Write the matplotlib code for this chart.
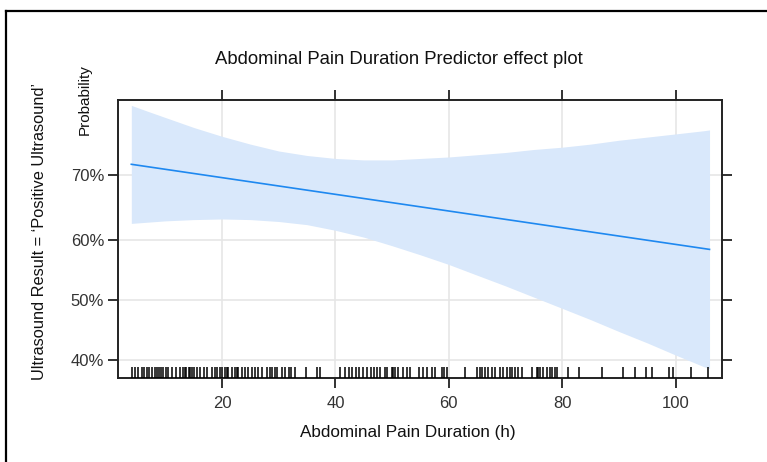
import matplotlib
matplotlib.use("Agg")
import matplotlib.pyplot as plt
from matplotlib.lines import Line2D
from matplotlib.ticker import FixedLocator, FuncFormatter, NullLocator

# ---- data ----
duration = [4, 7, 10, 15, 20, 25, 30, 35, 40, 45, 50, 55, 60, 65, 70, 75, 80, 85,
            90, 95, 100, 105, 106]
upper = [0.789, 0.782, 0.775, 0.763, 0.752, 0.742, 0.733, 0.727, 0.723, 0.721, 0.721,
         0.723, 0.725, 0.728, 0.731, 0.735, 0.738, 0.742, 0.747, 0.751, 0.755, 0.759,
         0.760]
lower = [0.627, 0.629, 0.631, 0.633, 0.634, 0.633, 0.630, 0.625, 0.616, 0.605, 0.591,
         0.576, 0.560, 0.542, 0.524, 0.505, 0.486, 0.467, 0.447, 0.428, 0.408, 0.389,
         0.386]

# fitted effect (straight on the logit scale): end points
fit_duration = [4, 106]
fit = [0.7150, 0.5850]

rug = [4.1, 4.6, 5.2, 5.8, 6.2, 6.7, 7.2, 7.7, 8.1, 8.5, 8.8, 9.2, 9.6, 10.1, 10.5,
       11.2, 11.9, 12.5, 13.1, 13.4, 13.7, 14.1, 14.4, 14.7, 15.1, 15.6, 16.1, 16.8,
       17.4, 18.2, 18.8, 19.1, 19.6, 20.0, 20.5, 20.9, 21.1, 21.8, 22.3, 22.6, 22.8,
       23.5, 24.0, 24.6, 25.3, 25.8, 26.4, 27.0, 27.9, 28.4, 28.8, 29.4, 29.7, 30.6,
       31.1, 31.8, 32.2, 32.9, 34.8, 36.8, 37.3, 40.8, 41.7, 42.4, 42.9, 43.6, 44.2,
       44.9, 45.6, 46.3, 46.8, 47.4, 47.9, 48.8, 49.1, 50.0, 50.2, 50.5, 51.1, 52.0,
       52.6, 53.2, 54.8, 55.5, 56.1, 57.0, 57.6, 58.8, 59.1, 59.7, 62.9, 64.9, 65.5,
       65.8, 66.4, 67.0, 67.6, 68.2, 69.1, 69.6, 70.2, 70.8, 71.1, 71.7, 72.3, 72.9,
       74.7, 75.5, 75.8, 76.1, 76.7, 77.3, 77.9, 78.2, 78.8, 79.1, 81.0, 82.9, 87.0,
       90.7, 92.9, 94.8, 95.8, 98.9, 99.6, 102.7, 105.8]

x_ticks = [20, 40, 60, 80, 100]
y_ticks = [0.4, 0.5, 0.6, 0.7]

title = "Abdominal Pain Duration Predictor effect plot"
x_label = "Abdominal Pain Duration (h)"
y_label = "Ultrasound Result = \u2018Positive Ultrasound\u2019"
y_sublabel = "Probability"

# ---- figure ----
W, H = 767, 462
fig = plt.figure(figsize=(W / 100, H / 100), dpi=100)
plt.rcParams['font.family'] = ['Liberation Sans', 'DejaVu Sans']

ax = fig.add_axes([118 / W, 1 - 378 / H, (722 - 118) / W, (378 - 100) / H])
ax.set_yscale('logit')
ax.set_xlim(1.65, 108.2)
ax.set_ylim(0.371, 0.795)

ax.fill_between(duration, lower, upper, color='#d9e8fb', linewidth=0, zorder=1)
ax.plot(fit_duration, fit, color='#1e88f0', linewidth=1.2, zorder=3)

ax.vlines(rug, 0, 0.038, transform=ax.get_xaxis_transform(), color='black',
          linewidth=1.1, zorder=4)

ax.yaxis.set_major_locator(FixedLocator(y_ticks))
ax.yaxis.set_minor_locator(NullLocator())
ax.yaxis.set_major_formatter(FuncFormatter(lambda v, p: f"{v * 100:.0f}%"))
ax.xaxis.set_major_locator(FixedLocator(x_ticks))
ax.xaxis.set_minor_locator(NullLocator())

ax.grid(True, color='#e6e6e6', linewidth=1.2, zorder=0)
ax.set_axisbelow(True)

ax.tick_params(axis='both', direction='out', length=7, width=1.3, color='#222222',
               labelsize=12, labelcolor='#333333')
ax.tick_params(axis='x', top=True, labeltop=False, pad=6)
ax.tick_params(axis='y', right=True, labelright=False, pad=3)
for s in ax.spines.values():
    s.set_linewidth(1.4)
    s.set_color('#222222')

fig.text(399 / W, 1 - 60 / H, title, ha='center', va='center', fontsize=13.3,
         color='#111111')
fig.text(408 / W, 1 - 433 / H, x_label, ha='center', va='center', fontsize=12.3,
         color='#111111')
fig.text(40 / W, 1 - 231 / H, y_label, ha='center', va='center', rotation=90,
         fontsize=11.8, color='#111111')
fig.text(85 / W, 1 - 100 / H, y_sublabel, ha='center', va='center', rotation=90,
         fontsize=11, color='#111111')

# outer frame (cut off at right and bottom)
fig.add_artist(Line2D([6 / W, 6 / W], [0, 1 - 11 / H], transform=fig.transFigure,
                      color='black', linewidth=1.6))
fig.add_artist(Line2D([6 / W, 1], [1 - 11 / H, 1 - 11 / H], transform=fig.transFigure,
                      color='black', linewidth=1.6))

fig.savefig("out.png", dpi=100)
